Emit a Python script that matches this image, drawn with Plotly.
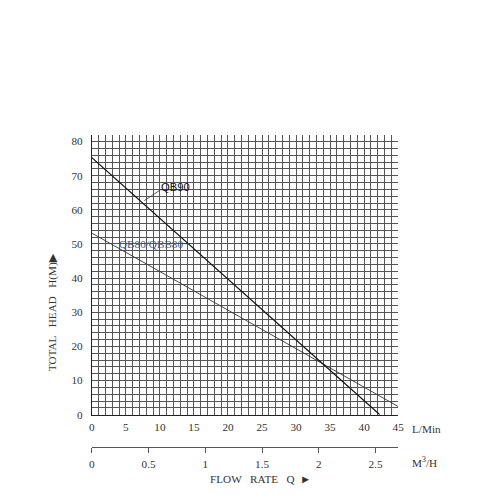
import plotly.graph_objects as go

# ---- data ----
qb90_flow = [0, 42.3]          # L/min
qb90_head = [75.3, 0]          # m
qb80_flow = [0, 45]
qb80_head = [53.2, 2.4]

x_ticks = [0, 5, 10, 15, 20, 25, 30, 35, 40, 45]
y_ticks = [0, 10, 20, 30, 40, 50, 60, 70, 80]
m3_ticks = [0, 0.5, 1, 1.5, 2, 2.5]
m3_labels = ["0", "0.5", "1", "1.5", "2", "2.5"]

label_qb90 = "QB90"
label_qb80 = "QB80/QBB80"

SERIF = "Liberation Serif, DejaVu Serif, serif"
GRID = "#555555"
K = 0.984  # observed render scale


def px_x(v):
    return (v / K) / 500


def px_y(v):
    return 1 - (v / K) / 500


fig = go.Figure()

fig.add_trace(go.Scatter(x=qb80_flow, y=qb80_head, mode="lines",
                         line=dict(color="#333333", width=0.9), showlegend=False))
fig.add_trace(go.Scatter(x=qb90_flow, y=qb90_head, mode="lines",
                         line=dict(color="#111111", width=1.3), showlegend=False))

# invisible trace on secondary x axis so it is drawn
fig.add_trace(go.Scatter(x=[0, 2.7], y=[None, None], xaxis="x2", yaxis="y",
                         mode="lines", showlegend=False, hoverinfo="skip"))

xd = [px_x(89), px_x(396)]
yd = [px_y(413), px_y(134)]
FS = 11.2

fig.update_layout(
    width=500, height=500,
    margin=dict(l=0, r=0, t=0, b=0),
    paper_bgcolor="white", plot_bgcolor="white",
    font=dict(family=SERIF, size=FS, color="#333"),
    xaxis=dict(domain=xd, range=[0, 45], tickvals=x_ticks,
               ticktext=[str(v) for v in x_ticks],
               showgrid=True, gridcolor=GRID, gridwidth=0.9,
               minor=dict(dtick=1, showgrid=True, gridcolor=GRID, gridwidth=0.9),
               showline=True, linecolor="#222", linewidth=1,
               zeroline=False, ticks="", ticklabelstandoff=2,
               tickfont=dict(family=SERIF, size=FS, color="#333")),
    yaxis=dict(domain=yd, range=[0, 82.06], tickvals=y_ticks,
               ticktext=[str(v) for v in y_ticks],
               showgrid=True, gridcolor=GRID, gridwidth=0.9,
               minor=dict(dtick=2, showgrid=True, gridcolor=GRID, gridwidth=0.9),
               showline=True, linecolor="#222", linewidth=1,
               zeroline=False, ticks="", ticklabelstandoff=6,
               tickfont=dict(family=SERIF, size=FS, color="#333")),
    xaxis2=dict(domain=xd, range=[0, 2.7], anchor="free", position=px_y(445),
                overlaying="x", side="bottom",
                tickvals=m3_ticks, ticktext=m3_labels,
                showgrid=False, zeroline=False,
                showline=True, linecolor="#555", linewidth=1,
                ticks="outside", ticklen=5, tickcolor="#555",
                ticklabelstandoff=2,
                tickfont=dict(family=SERIF, size=FS, color="#333")),
)

# curve labels and leader lines
fig.add_annotation(x=12.3, y=66.6, text=label_qb90, showarrow=False,
                   xanchor="center", yanchor="middle",
                   font=dict(family="Liberation Sans, Arial, sans-serif", size=FS, color="#111"))
fig.add_shape(type="path", path="M 7.7 62.7 L 10.1 65.9 L 14.3 65.9",
              line=dict(color="#333", width=0.8))
fig.add_annotation(x=8.7, y=50.1, text=label_qb80, showarrow=False,
                   xanchor="center", yanchor="middle",
                   font=dict(family=SERIF, size=FS, color="#3d5678"))
fig.add_shape(type="line", x0=13.0, y0=50.1, x1=14.2, y1=50.1,
              line=dict(color="#333", width=0.8))

# axis titles / unit labels
fig.add_annotation(xref="paper", yref="paper", x=px_x(408), y=px_y(427),
                   text="L/Min", showarrow=False, xanchor="left", yanchor="middle",
                   font=dict(family=SERIF, size=FS, color="#333"))
fig.add_annotation(xref="paper", yref="paper", x=px_x(408), y=px_y(460),
                   text="M<sup>3</sup>/H", showarrow=False, xanchor="left", yanchor="middle",
                   font=dict(family=SERIF, size=FS, color="#333"))
fig.add_annotation(xref="paper", yref="paper", x=px_x(258), y=px_y(477),
                   text="FLOW\u00a0\u00a0\u00a0RATE\u00a0\u00a0\u00a0Q\u00a0\u00a0\u25ba",
                   showarrow=False, xanchor="center", yanchor="middle",
                   font=dict(family=SERIF, size=FS, color="#333"))
fig.add_annotation(xref="paper", yref="paper", x=px_x(49), y=px_y(311),
                   text="TOTAL\u00a0\u00a0\u00a0HEAD\u00a0\u00a0\u00a0H(M)\u25b6",
                   showarrow=False, textangle=-90, xanchor="center", yanchor="middle",
                   font=dict(family=SERIF, size=FS, color="#333"))

fig.write_html(
    "out.html",
    config={"displayModeBar": False},
    post_script="document.body.style.margin='0';"
                "document.documentElement.style.overflow='hidden';"
                "document.body.style.overflow='hidden';",
)
